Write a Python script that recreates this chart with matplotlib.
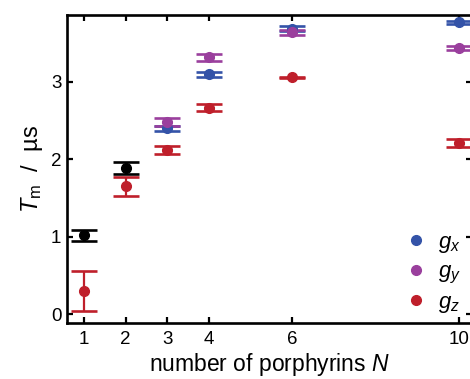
import matplotlib
matplotlib.use("Agg")
import matplotlib.pyplot as plt
from matplotlib.lines import Line2D

plt.rcParams['font.family'] = ['Liberation Sans', 'DejaVu Sans']
plt.rcParams['mathtext.fontset'] = 'custom'
plt.rcParams['mathtext.rm'] = 'Liberation Sans'
plt.rcParams['mathtext.it'] = 'Liberation Sans:italic'

# Phase-memory times vs. ring size
n_black = [1, 2]
tm_black = [1.02, 1.89]
err_black = [0.07, 0.075]

n_orient = [3, 4, 6, 10]
tm_gx = [2.40, 3.10, 3.69, 3.77]
err_gx = [0.035, 0.03, 0.03, 0.02]
tm_gy = [2.48, 3.32, 3.64, 3.44]
err_gy = [0.055, 0.045, 0.03, 0.03]

n_gz = [1, 2, 3, 4, 6, 10]
tm_gz = [0.30, 1.65, 2.12, 2.67, 3.06, 2.21]
err_gz = [0.26, 0.125, 0.055, 0.04, 0.01, 0.05]

x_ticks = [1, 2, 3, 4, 6, 10]
y_ticks = [0, 1, 2, 3]

c_x = '#3453a8'
c_y = '#9a3f9d'
c_z = '#bf1f2b'

fig = plt.figure(figsize=(4.70, 3.79), dpi=100)
ax = fig.add_axes([0.1426, 0.1478, 0.8617, 0.8126])

eb = dict(fmt='o', ms=7.0, elinewidth=1.6, capsize=9.7, capthick=1.9)
ax.errorbar(n_black, tm_black, yerr=err_black, color='black', **eb)
ax.errorbar(n_orient, tm_gx, yerr=err_gx, color=c_x, **eb)
ax.errorbar(n_orient, tm_gy, yerr=err_gy, color=c_y, **eb)
ax.errorbar(n_gz, tm_gz, yerr=err_gz, color=c_z, **eb)

ax.set_xlim(0.592, 10.312)
ax.set_ylim(-0.116, 3.866)
ax.set_xticks(x_ticks)
ax.set_yticks(y_ticks)
ax.tick_params(direction='in', length=4, width=1.6, labelsize=13.5,
               top=True, right=True, pad=6)
ax.tick_params(axis='y', pad=4)
for s in ax.spines.values():
    s.set_linewidth(1.9)

ax.set_xlabel('number of porphyrins $\\mathit{N}$', fontsize=16.5, labelpad=2)
ax.set_ylabel('$T_\\mathrm{m}$  /  µs', fontsize=17, labelpad=4)

handles = [Line2D([], [], ls='none', marker='o', ms=7, color=c)
           for c in (c_x, c_y, c_z)]
labels = ['$g_x$', '$g_y$', '$g_z$']
ax.legend(handles, labels, loc='lower left', bbox_to_anchor=(0.834, 0.139),
          bbox_transform=fig.transFigure, frameon=False, fontsize=16,
          handletextpad=0.35, labelspacing=0.28, borderpad=0, handlelength=1.2)

fig.savefig('out.png', dpi=100)
